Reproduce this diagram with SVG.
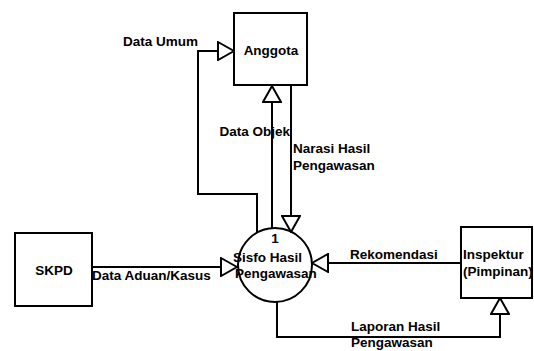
<svg xmlns="http://www.w3.org/2000/svg" width="534" height="351" viewBox="0 0 534 351">
<style>
.box{fill:#fff;stroke:#000;stroke-width:2}
.ln{fill:none;stroke:#000;stroke-width:2}
text{font-family:"Liberation Sans",Arial,sans-serif;font-size:13.5px;font-weight:bold;fill:#000}
</style>
<defs>
<marker id="arr" viewBox="0 0 18 20" refX="17" refY="10" markerWidth="18" markerHeight="20" markerUnits="userSpaceOnUse" orient="auto">
<path d="M1,1 L17,10 L1,19 Z" fill="#fff" stroke="#000" stroke-width="2"/>
</marker>
</defs>
<rect width="534" height="351" fill="#fff"/>
<g id="connectors">
<path class="ln" d="M257,233 V194 H198 V51 H234" marker-end="url(#arr)"/>
<path class="ln" d="M272,228 V86" marker-end="url(#arr)"/>
<path class="ln" d="M291,85 V232" marker-end="url(#arr)"/>
<path class="ln" d="M92,267 H237" marker-end="url(#arr)"/>
<path class="ln" d="M461,263 H312" marker-end="url(#arr)"/>
<path class="ln" d="M277,302 V337 H500 V298" marker-end="url(#arr)"/>
<text x="123" y="46">Data Umum</text>
<text x="290" y="136" text-anchor="end">Data Objek</text>
<text x="293" y="153">Narasi Hasil</text>
<text x="293" y="170">Pengawasan</text>
<text x="92" y="280">Data Aduan/Kasus</text>
<text x="350" y="259">Rekomendasi</text>
<text x="351" y="331">Laporan Hasil</text>
<text x="351" y="347">Pengawasan</text>
</g>
<g id="anggota">
<rect class="box" x="234" y="13" width="73" height="72"/>
<text x="271" y="55" text-anchor="middle">Anggota</text>
</g>
<g id="skpd">
<rect class="box" x="15" y="233" width="77" height="73"/>
<text x="54" y="275" text-anchor="middle">SKPD</text>
</g>
<g id="inspektur">
<rect class="box" x="461" y="227" width="71" height="71"/>
<text x="463" y="259">Inspektur</text>
<text x="463" y="276">(Pimpinan)</text>
</g>
<g id="process">
<circle cx="275" cy="265" r="37" fill="none" stroke="#000" stroke-width="2"/>
<text x="275" y="243" text-anchor="middle">1</text>
<text x="233" y="262">Sisfo Hasil</text>
<text x="235" y="278">Pengawasan</text>
</g>
</svg>
